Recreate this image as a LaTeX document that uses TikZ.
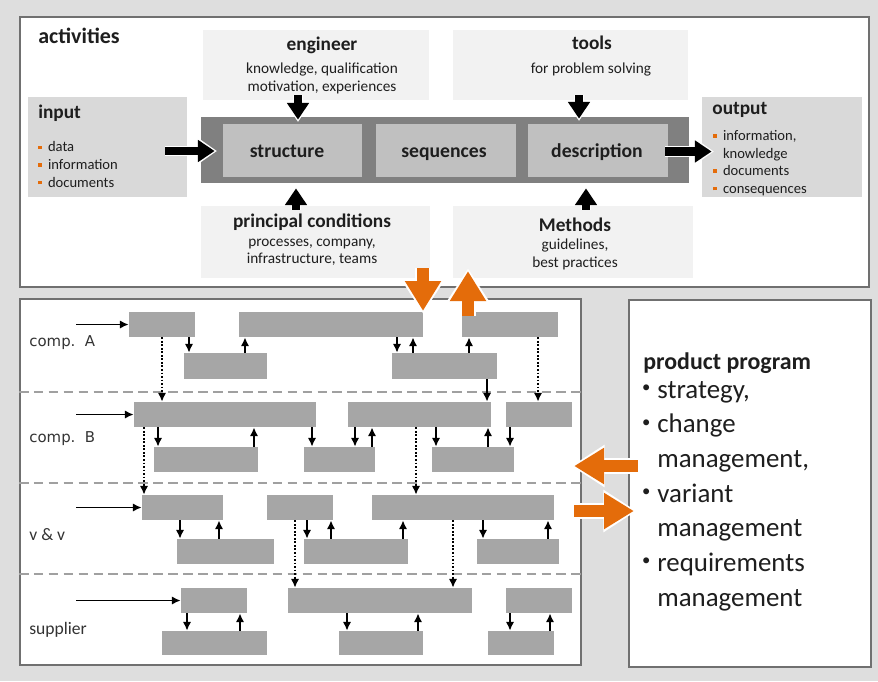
\documentclass[tikz,border=0pt]{standalone}
\usepackage{fontspec}
\setmainfont{Carlito}
\newfontfamily\lanefont{DejaVu Sans}
\usetikzlibrary{positioning,fit,calc,arrows.meta}

\definecolor{bggray}{HTML}{DEDEDE}
\definecolor{framegray}{HTML}{707070}
\definecolor{panelgray}{HTML}{F2F2F2}
\definecolor{iogray}{HTML}{D9D9D9}
\definecolor{coregray}{HTML}{808080}
\definecolor{stepgray}{HTML}{C0C0C0}
\definecolor{bargray}{HTML}{A6A6A6}
\definecolor{sepgray}{HTML}{A0A0A0}
\definecolor{ink}{HTML}{1E1E1E}
\definecolor{lanetext}{HTML}{333333}
\definecolor{accent}{HTML}{E46C0A}

\newcommand{\obul}{\makebox[5.5pt][l]{\textcolor{accent}{\rule[0.4ex]{2pt}{2pt}}}}
\newcommand{\nobul}{\hspace*{5.5pt}}
\newcommand{\pbul}{\llap{\raisebox{0.45ex}{\fontsize{9.5}{9.5}\selectfont\textbullet}\hspace{4pt}}}

\begin{document}
\begin{tikzpicture}[%
    x=0.02cm, y=-0.02cm,
    every node/.style={text=ink},
    frame/.style={draw=framegray, line width=1.3pt, fill=white, inner sep=0pt},
    panel/.style={fill=panelgray, inner sep=0pt},
    iobox/.style={fill=iogray, inner sep=0pt},
    core/.style={fill=coregray, inner sep=0pt},
    stepbox/.style={fill=stepgray, inner sep=0pt},
    steptext/.style={inner sep=0pt, anchor=base, font=\bfseries\fontsize{11.2}{13}\selectfont},
    lanebar/.style={fill=bargray, inner sep=0pt},
    head/.style={inner sep=0pt, font=\bfseries\fontsize{11}{13}\selectfont},
    sub/.style={inner sep=0pt, align=center, font=\fontsize{8.7}{9.8}\selectfont},
    list/.style={inner sep=0pt, align=left, anchor=west, font=\fontsize{8.3}{10}\selectfont},
    lane/.style={inner sep=0pt, anchor=west, text=lanetext, font=\fontsize{10}{12}\selectfont},
    blk/.style={line width=4.6pt, -{Triangle[length=9.5pt,width=12pt]},
      preaction={draw=white, line width=6.2pt, -{Triangle[length=11pt,width=14.5pt]}, shorten >=-1.3pt}},
    org/.style={draw=accent, line width=6.8pt, -{Triangle[length=17pt,width=19.5pt]},
      preaction={draw=white, line width=8.6pt, -{Triangle[length=19pt,width=23pt]}, shorten >=-1.6pt}},
    link/.style={-{Latex[length=5pt,width=4.8pt]}, line width=1.1pt},
    dotlink/.style={link, dash pattern=on 1.1pt off 0.9pt},
    sep/.style={draw=sepgray, line width=1.1pt, dash pattern=on 5.5pt off 3pt}
  ]
  \fill[bggray] (0,0) rectangle (878,681);
  \useasboundingbox (0,0) rectangle (878,681);

  % Activities: 
  \node[frame, fit={(20,17) (869,287)}] (acts) {};
  \node[head, anchor=west, font=\bfseries\fontsize{12.5}{15}\selectfont] (actT) at (38,36) {activities};

  \node[panel, fit={(203,30) (429,100)}] (eng) {};
  \node[head] (engT) at (322,45) {engineer};
  \node[sub] (engS) at (322,78.5) {knowledge, qualification\\motivation, experiences};

  \node[panel, fit={(453,30) (688,100)}] (tool) {};
  \node[head] (toolT) at (592,43) {tools};
  \node[sub] (toolS) at (591,69) {for problem solving};

  \node[panel, fit={(201,206) (430,278)}] (cond) {};
  \node[head] (condT) at (312,222) {principal conditions};
  \node[sub] (condS) at (312,252.5) {processes, company,\\infrastructure, teams};

  \node[panel, fit={(453,206) (693,278)}] (meth) {};
  \node[head] (methT) at (575,225) {Methods};
  \node[sub] (methS) at (575,254.5) {guidelines,\\best practices};

  \node[iobox, fit={(28,97) (187,197)}] (in) {};
  \node[head, anchor=west] (inT) at (38,113) {input};
  \node[list] (inL) at (38,164.5) {\obul data\\\obul information\\\obul documents};

  \node[iobox, fit={(702,97) (862,197)}] (out) {};
  \node[head, anchor=west] (outT) at (712,110) {output};
  \node[list] (outL) at (713,163) {\obul information,\\\nobul knowledge\\\obul documents\\\obul consequences};

  \node[core, fit={(201,117) (689,183)}] (core) {};
  \node[stepbox, fit={(223,124) (362,177)}] (struct) {};
  \node[stepbox, fit={(376,124) (516,177)}] (seq) {};
  \node[stepbox, fit={(528,124) (668,177)}] (descr) {};
  \node[steptext] (structT) at (287,157) {structure};
  \node[steptext] (seqT) at (444,157) {sequences};
  \node[steptext] (descrT) at (597,157) {description};

  % Block arrows: 
  \draw[blk] ($(in.east |- core.west)+(-22,1)$) -- ($(core.west)+(14,1)$);
  \draw[blk] ($(descr.east)+(-3,1)$) -- ($(out.west |- descr.east)+(10,1)$);
  \draw[blk] ($(eng.south -| 298,0)+(0,-5)$) -- ($(core.north -| 298,0)+(0,3)$);
  \draw[blk] ($(tool.south -| 579,0)+(0,-5)$) -- ($(core.north -| 579,0)+(0,2)$);
  \draw[blk] ($(cond.north -| 296,0)+(0,4)$) -- ($(core.south -| 296,0)+(0,5)$);
  \draw[blk] ($(meth.north -| 586,0)+(0,4)$) -- ($(core.south -| 586,0)+(0,5)$);

  % Lanes: 
  \node[frame, fit={(20,299) (581,665)}] (lanes) {};
  \foreach \y in {392,483,574}
    \draw[sep] (lanes.west |- 0,\y) -- (lanes.east |- 0,\y);

  \node[lane, font=\lanefont\fontsize{8.5}{10}\selectfont] (labA) at (29,343) {comp.\ \ A};
  \node[lane, font=\lanefont\fontsize{8.5}{10}\selectfont] (labB) at (29,439) {comp.\ \ B};
  \node[lane] (labC) at (29,535) {v \& v};
  \node[lane] (labD) at (29,630) {supplier};

  \foreach \n/\xa/\ya/\xb/\yb in {%
      A1/129/312/195/337, A2/239/312/423/337, A3/462/312/558/337,
      A4/184/353/267/379, A5/392/353/497/379,
      B1/134/402/316/427, B2/348/402/491/427, B3/506/402/572/427,
      B4/154/447/258/472, B5/304/447/375/472, B6/432/447/514/472,
      C1/142/495/223/520, C2/267/495/333/520, C3/372/495/554/520,
      C4/177/539/274/564, C5/304/539/408/564, C6/477/539/559/564,
      D1/181/588/247/613, D2/288/588/472/613, D3/506/588/572/613,
      D4/162/631/267/655, D5/339/631/423/655, D6/488/631/554/655}
    \node[lanebar, fit={(\xa,\ya) (\xb,\yb)}] (\n) {};

  % Links: 
  \foreach \n in {A1,B1,C1,D1}
    \draw[link] (\n.west -| 76,0) -- (\n.west);
  \foreach \a/\b/\x in {A1/A4/189, A2/A5/397, B1/B4/158, B1/B5/312, B2/B5/355,
      B2/B6/436, B3/B6/510, C1/C4/180, C2/C5/307, C3/C6/483, D1/D4/187,
      D2/D5/347, D3/D6/510, A5/B2/487}
    \draw[link] (\a.south -| \x,0) -- (\b.north -| \x,0);
  \foreach \a/\b/\x in {A4/A2/245, A5/A2/413, A5/A3/469, B4/B1/254, B5/B2/372,
      B6/B2/488, C4/C1/219, C5/C2/331, C5/C3/403, C6/C3/548, D4/D1/240,
      D5/D2/418, D6/D3/550}
    \draw[link] (\a.north -| \x,0) -- (\b.south -| \x,0);
  \foreach \a/\b/\x in {A1/B1/162, A3/B3/538, B1/C1/144, B2/C3/416, C2/D2/295, C3/D2/453}
    \draw[dotlink] (\a.south -| \x,0) -- (\b.north -| \x,0);

  % Product program: 
  \node[frame, fit={(629,300) (871,667)}] (prog) {};
  \node[anchor=west, inner sep=0pt, font=\bfseries\fontsize{13.6}{16}\selectfont] (progT) at (643,363) {product program};
  \node[anchor=west, inner sep=0pt, align=left, font=\fontsize{15.3}{19.7}\selectfont] (progL) at (657,496)
    {\pbul strategy,\\\pbul change\\management,\\\pbul variant\\management\\\pbul requirements\\management};

  % Orange arrows: 
  \draw[org] ($(acts.south -| 423,0)+(0,-20)$) -- ($(lanes.north -| 423,0)+(0,13)$);
  \draw[org] ($(lanes.north -| 468,0)+(0,18)$) -- ($(acts.south -| 468,0)+(0,-17)$);
  \draw[org] ($(prog.west |- 0,466)+(10,0)$) -- ($(lanes.east |- 0,466)+(-8,0)$);
  \draw[org] ($(lanes.east |- 0,511)+(-8,0)$) -- ($(prog.west |- 0,511)+(6,0)$);
\end{tikzpicture}
\end{document}
